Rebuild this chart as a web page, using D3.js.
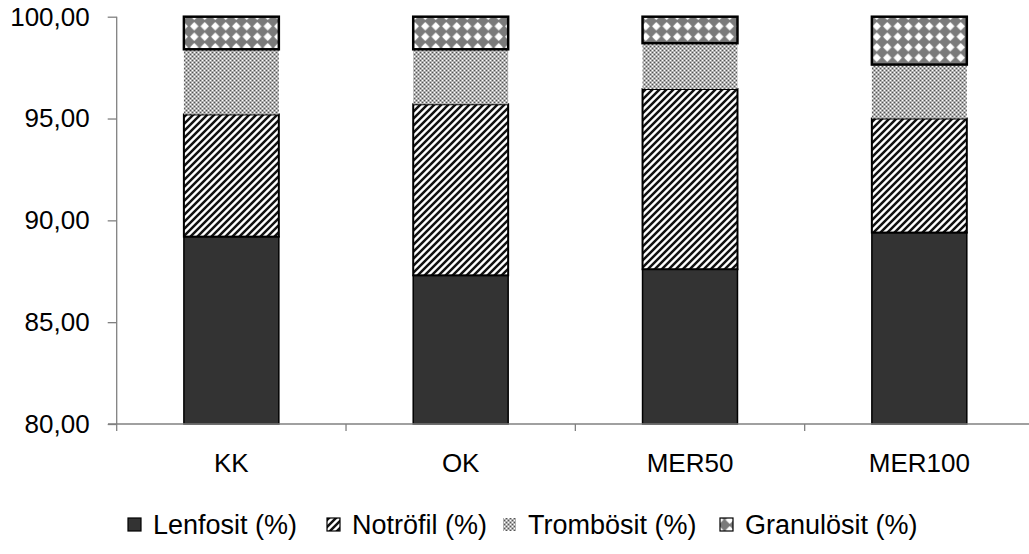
<!DOCTYPE html>
<html>
<head>
<meta charset="utf-8">
<script src="https://cdn.jsdelivr.net/npm/d3@7/dist/d3.min.js"></script>
<style>
  html, body { margin: 0; padding: 0; background: #fff; }
  svg { display: block; font-family: "Liberation Sans", Arial, sans-serif; }
</style>
</head>
<body>
<svg id="chart" width="1029" height="554"></svg>
<script>
const categories = ["KK", "OK", "MER50", "MER100"];
const seriesNames = ["Lenfosit (%)", "Notröfil (%)", "Trombösit (%)", "Granulösit (%)"];
const lenfosit = [89.2, 87.3, 87.6, 89.4];
const notrofil = [6.0, 8.4, 8.85, 5.6];
const trombosit = [3.2, 2.7, 2.25, 2.65];
const granulosit = [1.6, 1.6, 1.3, 2.35];
const yTicks = [80, 85, 90, 95, 100];

const seriesValues = [lenfosit, notrofil, trombosit, granulosit];

const svg = d3.select("#chart");
const defs = svg.append("defs");

// Diagonal hatch pattern
const hatch = defs.append("pattern").attr("id", "hatch")
  .attr("patternUnits", "userSpaceOnUse").attr("width", 7).attr("height", 7);
hatch.append("rect").attr("width", 7).attr("height", 7).attr("fill", "#fff");
hatch.append("path").attr("d", "M-2,2 L2,-2 M0,7 L7,0 M5,9 L9,5")
  .attr("stroke", "#111").attr("stroke-width", 2.5);

// Fine dotted pattern
const dots = defs.append("pattern").attr("id", "dots")
  .attr("patternUnits", "userSpaceOnUse").attr("width", 4).attr("height", 4);
dots.append("rect").attr("width", 4).attr("height", 4).attr("fill", "#b0b0b0");
dots.append("rect").attr("x", 0).attr("y", 0).attr("width", 1).attr("height", 1).attr("fill", "#555");
dots.append("rect").attr("x", 2).attr("y", 2).attr("width", 1).attr("height", 1).attr("fill", "#555");
dots.append("rect").attr("x", 2).attr("y", 0).attr("width", 1).attr("height", 1).attr("fill", "#fff");
dots.append("rect").attr("x", 0).attr("y", 2).attr("width", 1).attr("height", 1).attr("fill", "#fff");

// Diamond pattern
const diam = defs.append("pattern").attr("id", "diam")
  .attr("patternUnits", "userSpaceOnUse").attr("width", 10.5).attr("height", 10.5);
diam.append("rect").attr("width", 10.5).attr("height", 10.5).attr("fill", "#7a7a7a");
diam.append("path").attr("d", "M5.25,1 L9.5,5.25 L5.25,9.5 L1,5.25 Z").attr("fill", "#fff");

const fills = ["#333333", "url(#hatch)", "url(#dots)", "url(#diam)"];
const strokes = ["#000", "#000", "none", "#000"];
const strokeW = [1.5, 2, 0, 2.5];

const y = d3.scaleLinear().domain([80, 100]).range([424, 16.7]);
const x = d3.scaleBand().domain(categories).range([116.7, 1034])
  .paddingInner(0.586).paddingOuter(0.293);
const step = x.step();

// stacked data
const rows = categories.map((c, i) => {
  const o = { cat: c };
  seriesNames.forEach((s, j) => o[s] = seriesValues[j][i]);
  return o;
});
const stacked = d3.stack().keys(seriesNames)(rows);

const g = svg.append("g");
stacked.forEach((layer, j) => {
  g.selectAll(null).data(layer).enter().append("rect")
    .attr("x", d => x(d.data.cat))
    .attr("width", x.bandwidth())
    .attr("y", d => y(Math.min(100, d[1])))
    .attr("height", d => Math.max(0, y(Math.max(80, d[0])) - y(Math.min(100, d[1]))))
    .attr("fill", fills[j])
    .attr("stroke", strokes[j])
    .attr("stroke-width", strokeW[j]);
});

// Axes
const axisColor = "#808080";
const fontSize = 26;
const yAxis = svg.append("g").attr("transform", "translate(116.7,0)")
  .call(d3.axisLeft(y).tickValues(yTicks).tickSize(9).tickPadding(18)
    .tickFormat(d => d3.format(".2f")(d).replace(".", ",")));
yAxis.select(".domain").attr("stroke", axisColor).attr("stroke-width", 1.3).attr("d", `M0,${y(100)}V${y(80)}`);
yAxis.selectAll(".tick line").attr("stroke", axisColor).attr("stroke-width", 1.3);
yAxis.selectAll(".tick text").attr("fill", "#000").attr("font-size", fontSize)
  .attr("font-family", "'Liberation Sans', Arial, sans-serif");

const xAxisG = svg.append("g").attr("transform", `translate(0,${y(80)})`);
xAxisG.append("line").attr("x1", 108).attr("x2", 1029).attr("y1", 0).attr("y2", 0)
  .attr("stroke", axisColor).attr("stroke-width", 1.3);
const boundaries = categories.map(c => x(c) - (step - x.bandwidth()) / 2)
  .concat([x(categories[3]) + x.bandwidth() + (step - x.bandwidth()) / 2]);
xAxisG.selectAll(".xt").data(boundaries).enter().append("line")
  .attr("x1", d => d).attr("x2", d => d).attr("y1", 0).attr("y2", 7)
  .attr("stroke", axisColor).attr("stroke-width", 1.3);
xAxisG.selectAll(".xl").data(categories).enter().append("text")
  .attr("x", d => x(d) + x.bandwidth() / 2)
  .attr("y", 48)
  .attr("text-anchor", "middle")
  .attr("font-size", fontSize)
  .attr("fill", "#000")
  .text(d => d);

// Legend
const legendX = [128, 327, 503, 720];
const leg = svg.append("g");
seriesNames.forEach((s, j) => {
  leg.append("rect").attr("x", legendX[j]).attr("y", 518).attr("width", 13).attr("height", 13)
    .attr("fill", fills[j]).attr("stroke", j === 2 ? "none" : "#000").attr("stroke-width", 1.2);
  leg.append("text").attr("x", legendX[j] + 25).attr("y", 534)
    .attr("font-size", 27).attr("fill", "#000").text(s);
});
</script>
</body>
</html>
